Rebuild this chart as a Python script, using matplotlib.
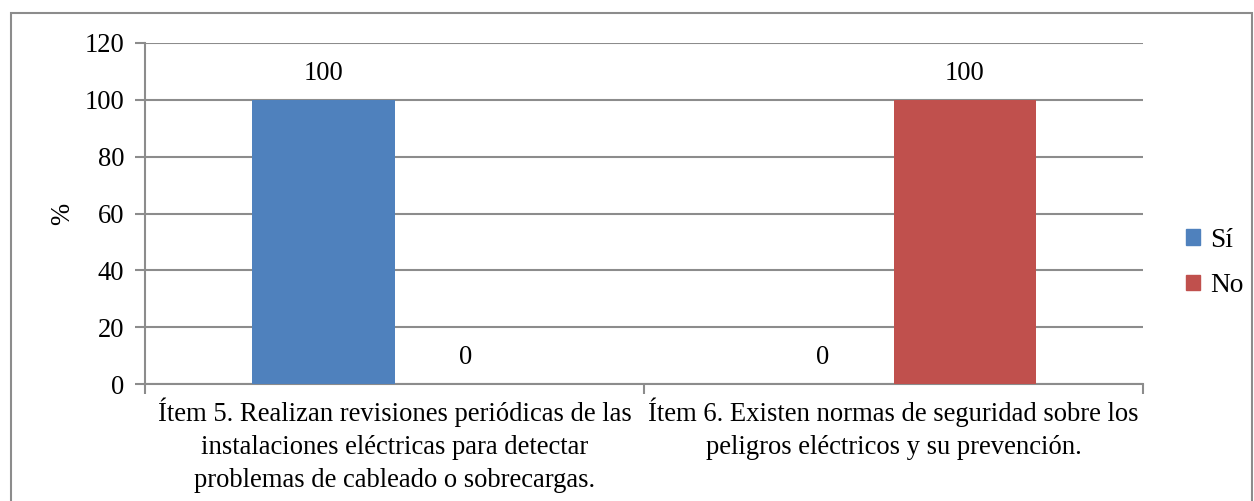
import numpy as np
import matplotlib
matplotlib.use("Agg")
import matplotlib.pyplot as plt
from matplotlib.patches import Rectangle, Patch

# datos
categorias = ["Ítem 5. Realizan revisiones periódicas de las\ninstalaciones eléctricas para detectar\nproblemas de cableado o sobrecargas.",
              "Ítem 6. Existen normas de seguridad sobre los\npeligros eléctricos y su prevención."]
si = [100, 0]
no = [0, 100]
series = ["Sí", "No"]
colores = ["#4F81BD", "#C0504D"]

plt.rcParams['font.family'] = ['Liberation Serif', 'DejaVu Serif']
gris = "#8c8c8c"
fs = 19.2

W, H = 1254, 501
fig = plt.figure(figsize=(W / 100, H / 100), dpi=100)
# borde del grafico
fig.patches.append(Rectangle((11 / W, -0.05), (1252 - 11) / W, 1 - 13 / H + 0.05,
                             transform=fig.transFigure, fill=False, ec=gris, lw=1.5))

ax = fig.add_axes([145 / W, 1 - 384 / H, (1143 - 145) / W, (384 - 43) / H])
x = np.arange(len(categorias))
ancho = 0.285
b1 = ax.bar(x - ancho / 2, si, ancho, color=colores[0], label=series[0], zorder=3)
b2 = ax.bar(x + ancho / 2, no, ancho, color=colores[1], label=series[1], zorder=3)
for barras in (b1, b2):
    for r in barras:
        ax.annotate(f"{r.get_height():.0f}", (r.get_x() + r.get_width() / 2, r.get_height()),
                    xytext=(0, 10), textcoords="offset points", ha="center", va="bottom", fontsize=fs)

ax.set_xlim(-0.5, 1.5)
ax.set_ylim(0, 120)
ax.set_yticks(range(0, 121, 20))
ax.grid(axis="y", color=gris, lw=1.5, zorder=0)
for s in ["top", "right"]:
    ax.spines[s].set_visible(False)
ax.spines["left"].set_color(gris)
ax.spines["bottom"].set_color(gris)
ax.spines["left"].set_linewidth(1.5)
ax.spines["bottom"].set_linewidth(1.5)

ax.set_xticks([-0.5, 0.5, 1.5])
ax.set_xticklabels([])
ax.set_xticks(x, minor=True)
ax.set_xticklabels(categorias, minor=True, fontsize=fs, linespacing=1.4)
ax.tick_params(axis="x", which="minor", length=0, pad=10)
ax.tick_params(axis="x", which="major", length=7, width=1.5, color=gris)
ax.tick_params(axis="y", length=7, width=1.5, color=gris, labelsize=fs, pad=8)
ax.set_ylabel("%", fontsize=fs)
ax.yaxis.set_label_coords(-0.07, 0.5)

leg_h = [Patch(color=c, label=s) for c, s in zip(colores, series)]
fig.legend(handles=leg_h, loc="center left", bbox_to_anchor=(1186 / W, 1 - 263 / H),
           frameon=False, fontsize=fs + 0.5, handlelength=0.5, handleheight=0.5,
           handletextpad=0.4, labelspacing=0.75, borderpad=0, borderaxespad=0)

fig.savefig("out.png", dpi=100)
